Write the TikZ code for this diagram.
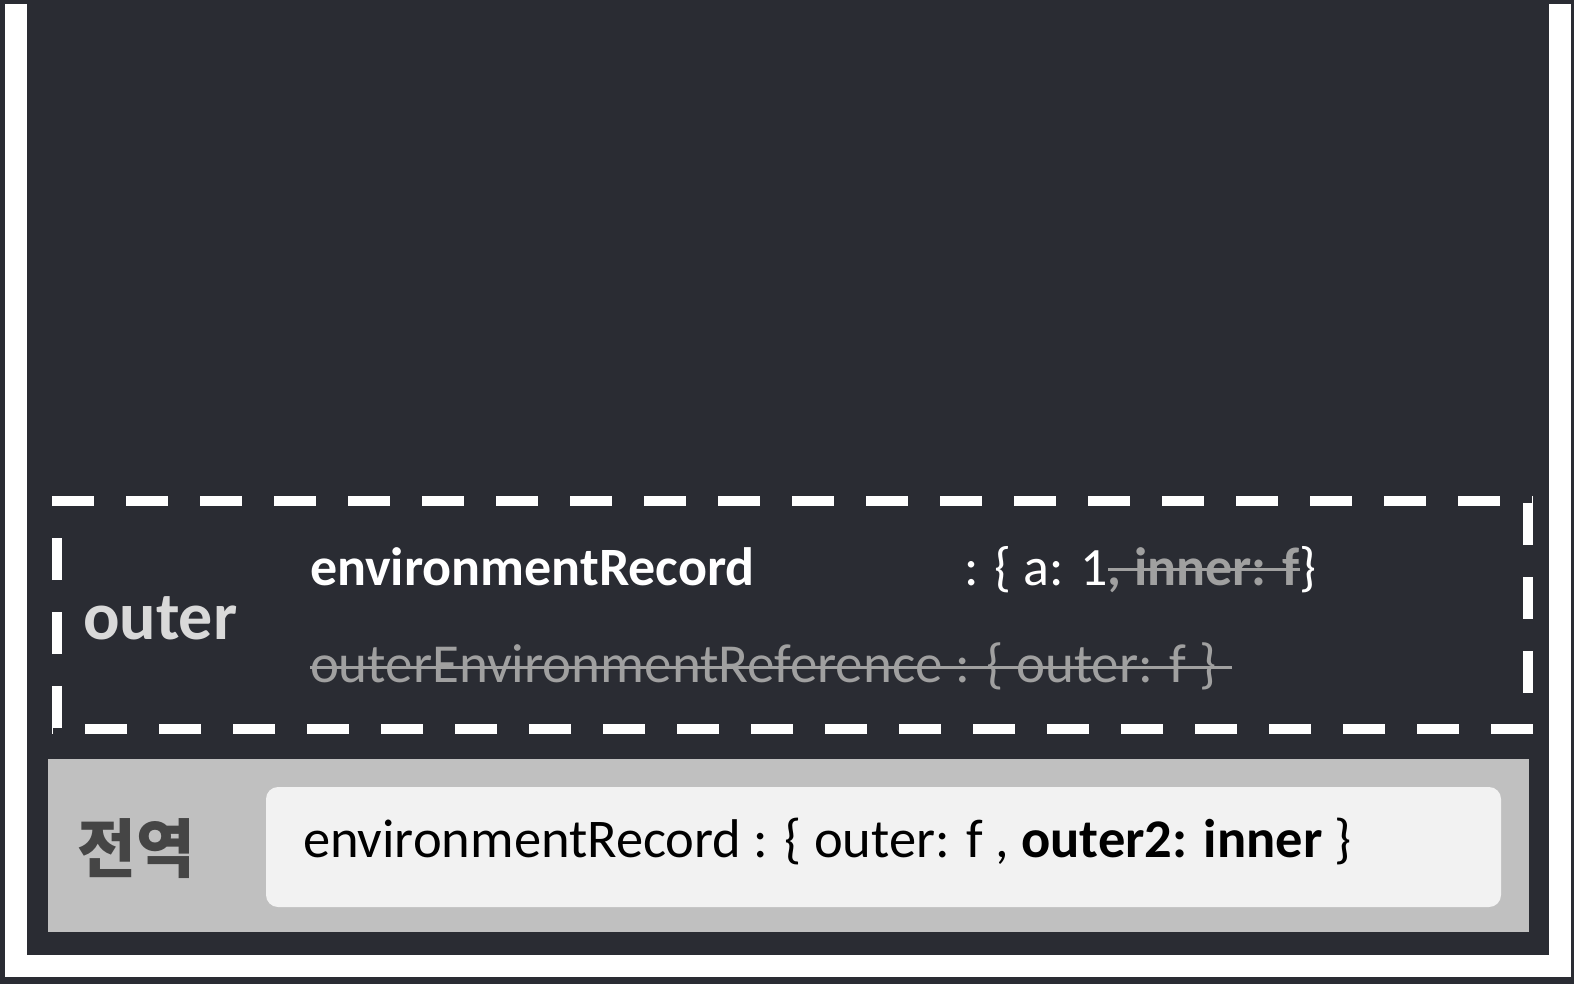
\documentclass[tikz,border=0pt]{standalone}
\usepackage{fontspec}
\setmainfont{Carlito}
\newfontfamily\krfont{Noto Sans CJK KR}
\definecolor{bg}{HTML}{2A2C33}
\definecolor{boxgray}{HTML}{C0C0C0}
\definecolor{boxwhite}{HTML}{F2F2F2}
\definecolor{strikegray}{HTML}{A0A0A0}
\definecolor{outergray}{HTML}{D9D9D9}
\definecolor{krgray}{HTML}{454545}
\begin{document}
\begin{tikzpicture}[x=1pt,y=-1pt,
  txt/.style={inner sep=0pt, outer sep=0pt, anchor=base west},
  strikeline/.style={strikegray, line width=3pt},
  dashside/.style={white, line width=10pt, dash pattern=on 42pt off 32pt}]
\useasboundingbox (0,0) rectangle (1574,984);
% background and white U-frame
\fill[bg] (0,0) rectangle (1574,984);
\fill[white] (5,4) rectangle (1571,977);
\fill[bg] (27,0) rectangle (1549,955);
% dashed box, side by side
\coordinate (tl) at (52,501);
\coordinate (tr) at (1533,501);
\coordinate (rt) at (1528,503);
\coordinate (rb) at (1528,734);
\coordinate (br) at (1533,729);
\coordinate (bl) at (52,729);
\coordinate (lb) at (57,728);
\coordinate (lt) at (57,496);
\draw[dashside] (tl) -- (tr);
\draw[dashside] (rt) -- (rb);
\draw[dashside] (br) -- (bl);
\draw[dashside] (lb) -- (lt);
% global box
\fill[boxgray] (48,759) rectangle (1529,932);
\fill[boxwhite, rounded corners=12pt] (266,787) rectangle (1501,907);
% outer label
\node[txt, text=outergray, font=\fontsize{68}{72}\selectfont\bfseries] (outer) at (83,639) {outer};
% line 1
\node[txt, text=white, font=\fontsize{54}{60}\selectfont\bfseries] (er1) at (310,585) {environmentRecord};
\node[txt, text=white, font=\fontsize{54}{60}\selectfont] (a1) at (964,585) {: \{ a: 1};
\node[txt, text=strikegray, font=\fontsize{54}{60}\selectfont\bfseries] (inner1) at (a1.base east) {, inner: f};
\node[txt, text=white, font=\fontsize{54}{60}\selectfont] (close1) at (inner1.base east) {\}};
\draw[strikeline] ([yshift=16pt]inner1.base west) -- ([yshift=16pt]inner1.base east);
% line 2
\node[txt, text=strikegray, font=\fontsize{55}{60}\selectfont] (oer) at (310,682) {outerEnvironmentReference : \{ outer: f \}};
\coordinate (oerend) at ([xshift=16pt]oer.base east);
\draw[strikeline] ([yshift=15pt]oer.base west) -- ([yshift=15pt]oerend);
% global
\node[anchor=west, inner sep=0pt, text=krgray, font=\fontsize{64}{70}\selectfont\krfont\bfseries] (kr) at (77,849) {전역};
\node[txt, text=black, font=\fontsize{54.5}{60}\selectfont] (g) at (303,857) {environmentRecord : \{ outer: f , \textbf{outer2: inner} \}};
\end{tikzpicture}
\end{document}
